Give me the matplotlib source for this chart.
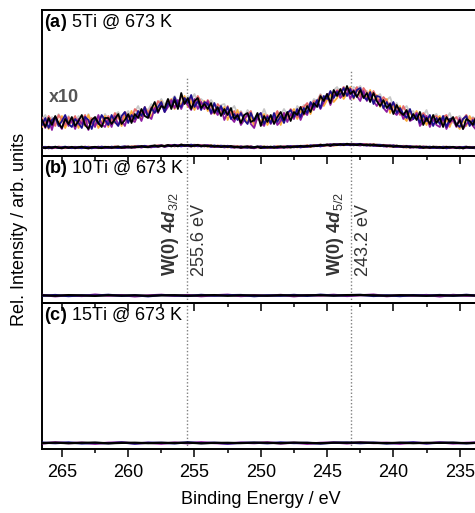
"""
XPS W 4d region, three Ti loadings at 673 K (stacked panels).
"""
import numpy as np
import matplotlib.pyplot as plt
import matplotlib as mpl
from matplotlib.ticker import MultipleLocator

mpl.rcParams["font.family"] = ["Liberation Sans", "DejaVu Sans"]
mpl.rcParams["mathtext.fontset"] = "custom"
mpl.rcParams["mathtext.rm"] = "Liberation Sans"
mpl.rcParams["mathtext.bf"] = "Liberation Sans:bold"
mpl.rcParams["mathtext.it"] = "Liberation Sans:italic"
mpl.rcParams["mathtext.bfit"] = "Liberation Sans:italic:bold"

# ── Data ──────────────────────────────────────────────────────────
# panel (a): spectra at 0.25 eV steps, 266.5 -> 232.5 eV, x10 scale units
BE_START, BE_END = 266.5, 232.5

a_gray = [3, 7, -1, 5, 0, 8, 2, -2, 6, 1,
          -1, 6, 3, -2, 8, 0, 4, 6, -2, 8,
          3, 0, 7, 10, 4, 7, 11, 4, 10, 16,
          8, 14, 12, 18, 11, 18, 23, 17, 23, 21,
          26, 20, 24, 19, 26, 22, 28, 19, 23, 20,
          17, 22, 17, 11, 17, 18, 9, 12, 16, 8,
          11, 5, 12, 7, 2, 8, 5, 13, 4, 7,
          1, 10, 7, 13, 7, 11, 7, 16, 12, 17,
          16, 15, 23, 21, 28, 23, 28, 24, 32, 35,
          29, 35, 32, 28, 35, 33, 36, 29, 31, 25,
          29, 25, 28, 19, 22, 25, 15, 19, 10, 13,
          16, 9, 11, 4, 10, 6, 12, 2, 6, 8,
          1, 6, 3, 9, -1, 4, 6, 1, 7, 3,
          5, 0, 8, 2, 4, -1, 6]

a_gold = [-5, 3, -7, 1, 4, -3, 6, -6, 2, -1,
          4, -6, 1, -4, 7, -2, 3, -6, 0, 6,
          -5, 5, -1, 7, -4, 6, 0, 11, 1, 8,
          4, 13, 11, 5, 16, 12, 21, 11, 16, 23,
          13, 21, 17, 26, 15, 21, 12, 22, 16, 21,
          11, 18, 8, 14, 9, 15, 2, 10, 3, 12,
          -2, 6, -1, 7, -5, 5, 0, 8, -3, 4,
          0, 9, -3, 7, 2, 6, 13, 3, 11, 7,
          17, 8, 18, 16, 25, 16, 22, 28, 20, 24,
          31, 23, 29, 35, 23, 33, 27, 29, 24, 32,
          20, 27, 15, 20, 23, 9, 16, 10, 16, 5,
          1, 10, 4, 11, 0, 4, -3, 6, 1, 3,
          6, -2, 2, -5, 4, -2, -7, 2, -4, 6,
          -1, 4, -5, 2, -3, 7, -2]

a_salmon = [4, -2, 6, 1, -4, 7, 2, -3, 5, 0,
            6, -3, 2, 7, -1, 4, -4, 3, 6, -1,
            6, 1, 9, 4, 0, 10, 5, 3, 13, 10,
            9, 15, 8, 15, 12, 21, 17, 13, 22, 18,
            23, 17, 26, 21, 17, 25, 18, 26, 20, 13,
            22, 16, 11, 18, 14, 8, 16, 7, 11, 3,
            10, 3, 7, 11, -1, 4, 9, 2, 7, 0,
            5, 11, 1, 9, 5, 13, 9, 5, 15, 15,
            19, 13, 21, 20, 27, 19, 26, 30, 26, 32,
            30, 35, 27, 34, 29, 35, 25, 34, 29, 24,
            31, 24, 19, 25, 21, 13, 19, 15, 7, 16,
            9, 12, 3, 9, 3, 9, 5, -2, 5, 6,
            -1, 5, 7, -2, 2, 5, -1, 3, 7, -2,
            4, 1, -3, 6, 2, -1, 5]

a_purple = [1, -6, 3, -8, 5, -2, -7, 4, -4, 2,
            -7, 3, -2, 5, -8, 1, -5, 7, -2, -5,
            3, -5, 6, -3, 2, -4, 7, 2, 0, 8,
            1, 11, 6, 3, 14, 9, 18, 10, 15, 22,
            14, 22, 13, 21, 17, 12, 23, 13, 20, 13,
            21, 8, 12, 7, 15, 2, 10, 4, 0, 8,
            -3, 2, 8, -2, -6, 5, -1, -4, 6, -2,
            5, -3, 1, 9, 0, 8, 3, 12, 2, 10,
            7, 18, 12, 20, 13, 20, 28, 17, 26, 31,
            24, 28, 34, 23, 32, 26, 21, 31, 21, 27,
            21, 16, 23, 14, 10, 19, 10, 7, 12, 3,
            10, 1, 3, 9, -4, 1, 6, -5, 3, -3,
            -5, 4, -7, 0, 2, -5, 4, -7, -2, 1,
            -4, -8, 2, -3, -6, 3, -5]

a_blue = [-3, 4, -6, 2, 5, -4, 1, 7, -2, -5,
          3, -1, -6, 5, 2, -7, 4, -2, 7, 2,
          -3, 7, 0, -4, 6, 10, -1, 7, 3, 11,
          6, 15, 5, 14, 9, 15, 20, 10, 19, 15,
          25, 17, 15, 24, 19, 27, 15, 21, 12, 20,
          18, 9, 19, 10, 16, 8, 15, 3, 8, 2,
          9, 2, -2, 9, 1, 6, 9, -2, 5, -1,
          9, 0, 6, -1, 9, 12, 5, 13, 5, 14,
          9, 20, 15, 22, 14, 26, 23, 31, 24, 30,
          27, 34, 26, 33, 24, 32, 34, 25, 22, 30,
          18, 26, 25, 14, 20, 13, 20, 9, 14, 8,
          4, 13, 3, 7, -1, 7, 1, 7, -4, 4,
          -2, 6, -5, 3, 4, -2, -5, 3, 6, -4,
          2, -6, 4, -3, 5, -1, 3]

a_black = [2, -5, 4, -3, 6, -1, -6, 3, -2, 5,
           -4, 1, 7, -3, -7, 2, 5, -1, -5, 4,
           4, -2, 3, 8, -2, 2, 8, -1, 8, 4,
           13, 6, 4, 13, 20, 10, 16, 14, 23, 13,
           22, 13, 29, 18, 24, 13, 21, 24, 14, 18,
           13, 19, 9, 15, 6, 13, 7, 14, 3, 7,
           -1, 7, 9, 0, 2, 9, -4, 6, 0, 7,
           -2, 5, 10, 2, 10, 1, 10, 7, 15, 8,
           16, 10, 19, 15, 26, 21, 28, 19, 32, 26,
           33, 26, 36, 28, 31, 25, 32, 24, 29, 20,
           29, 21, 16, 22, 14, 18, 8, 17, 10, 7,
           12, 2, 8, 2, 10, -3, 4, -2, 7, -1,
           4, -5, 5, 0, 5, -4, 2, -7, 3, 1,
           -3, 6, -2, 4, -5, 2, -1]

# panels (b), (c): flat traces at 1 eV steps, 266.5 -> 232.5 eV
b_purple = [0.6, -0.8, 0.3, -0.5, 0.9, -0.2, 0.4, -0.9, 0.1, 0.7,
            -0.4, 0.5, -0.7, 0.2, 0.8, -0.6, 0.3, -0.3, 0.6, -0.8,
            0.4, -0.1, 0.7, -0.5, 0.2, 0.9, -0.7, 0.3, -0.2, 0.5,
            -0.9, 0.6, -0.3, 0.1, -0.6]
b_blue = [-0.3, 0.5, -0.6, 0.2, -0.1, 0.7, -0.4, 0.3, -0.8, 0.4,
          0.1, -0.5, 0.6, -0.2, 0.3, 0.5, -0.7, 0.2, -0.3, 0.6,
          -0.4, 0.8, -0.1, 0.3, 0.6, -0.5, 0.2, -0.6, 0.4, -0.2,
          0.5, -0.3, 0.7, -0.4, 0.2]
b_black = [0.2, -0.3, 0.4, 0.1, -0.4, 0.3, -0.1, 0.2, -0.3, 0.1,
           0.3, -0.2, 0.1, 0.4, -0.3, 0.2, 0.1, -0.2, 0.3, 0.0,
           0.2, 0.3, -0.1, 0.4, 0.5, 0.2, -0.2, 0.3, 0.1, -0.3,
           0.2, -0.1, 0.3, -0.2, 0.1]

c_purple = [-0.5, 0.7, -0.2, 0.4, -0.8, 0.3, 0.6, -0.4, 0.2, -0.7,
            0.5, -0.3, 0.8, -0.1, -0.6, 0.4, -0.2, 0.7, -0.5, 0.3,
            -0.8, 0.2, 0.5, -0.4, 0.6, -0.1, 0.3, -0.7, 0.4, -0.3,
            0.6, -0.5, 0.2, 0.5, -0.4]
c_blue = [0.4, -0.2, 0.6, -0.5, 0.1, -0.3, 0.5, -0.6, 0.3, 0.2,
          -0.4, 0.7, -0.2, 0.3, -0.5, 0.1, 0.4, -0.3, 0.6, -0.1,
          0.2, -0.6, 0.3, 0.5, -0.2, 0.4, -0.5, 0.1, 0.6, -0.4,
          0.3, 0.2, -0.3, 0.4, -0.2]
c_black = [-0.1, 0.3, -0.2, 0.2, 0.4, -0.3, 0.1, 0.3, -0.2, 0.2,
           0.0, 0.3, -0.3, 0.1, 0.2, -0.1, 0.3, 0.2, -0.2, 0.4,
           0.1, -0.2, 0.3, 0.2, 0.5, 0.1, -0.1, 0.3, -0.2, 0.2,
           0.1, 0.3, -0.2, 0.2, 0.0]

PEAKS = [255.6, 243.2]
PEAK_LABELS = [(r"$\mathbf{W(0)\ 4}\mathbfit{d}_{\mathrm{3/2}}$", "255.6 eV"),
               (r"$\mathbf{W(0)\ 4}\mathbfit{d}_{\mathrm{5/2}}$", "243.2 eV")]
PANEL_LABELS = [r"$\mathbf{(a)}$ 5Ti @ 673 K",
                r"$\mathbf{(b)}$ 10Ti @ 673 K",
                r"$\mathbf{(c)}$ 15Ti @ 673 K"]

# ── Styles ────────────────────────────────────────────────────────
C_GRAY   = "#c8c8c8"
C_GOLD   = "#fbac3a"
C_SALMON = "#e66a6c"
C_PURPLE = "#8c1aa0"
C_BLUE   = "#1d0f8c"
C_BLACK  = "#000000"
C_DOT    = "#808080"
C_TXT    = "#333333"

a_series = [(a_gray, C_GRAY), (a_gold, C_GOLD), (a_salmon, C_SALMON),
            (a_purple, C_PURPLE), (a_blue, C_BLUE), (a_black, C_BLACK)]
b_series = [(b_purple, C_PURPLE), (b_blue, C_BLUE), (b_black, C_BLACK)]
c_series = [(c_purple, C_PURPLE), (c_blue, C_BLUE), (c_black, C_BLACK)]

W, H = 475, 513
fig = plt.figure(figsize=(W / 100, H / 100), dpi=100)

left, width = 42 / W, 484 / W
ph = 146.5 / H
bot = 1 - 449 / H
axes = [fig.add_axes([left, bot + (2 - i) * ph, width, ph]) for i in range(3)]
ylims = [(-8.5, 138), (-7, 139.5), (-6, 140.5)]

for i, ax in enumerate(axes):
    ax.patch.set_visible(False)
    ax.set_xlim(266.5, 230.0)
    ax.set_ylim(*ylims[i])
    ax.set_yticks([])
    ax.xaxis.set_major_locator(MultipleLocator(5))
    ax.xaxis.set_minor_locator(MultipleLocator(2.5))
    ax.tick_params(axis="x", which="both", direction="out", top=False,
                   bottom=True, width=1.1, labelsize=13, pad=5.5)
    ax.tick_params(axis="x", which="major", length=5.5)
    ax.tick_params(axis="x", which="minor", length=3)
    if i < 2:
        ax.tick_params(axis="x", labelbottom=False)
    for sp in ax.spines.values():
        sp.set_linewidth(1.4)
    ax.text(0.004, 0.985, PANEL_LABELS[i], transform=ax.transAxes,
            ha="left", va="top", fontsize=13, zorder=6)

# panel (a): raw traces and x10 traces
ax = axes[0]
for vals, col in a_series:
    y = np.array(vals, dtype=float)
    x = np.linspace(BE_START, BE_END, len(y))
    ax.plot(x, y / 10, color=col, lw=1.6, zorder=3)
    ax.plot(x, y + 25.5, color=col, lw=1.3, zorder=3)
ax.text(265.97, 50.5, "x10", ha="left", va="center", fontsize=13,
        fontweight="bold", color="#555555")
ax.axvline(PEAKS[0], ymax=0.539, color=C_DOT, lw=1.0, ls=(0, (1, 1.5)), zorder=2)
ax.axvline(PEAKS[1], ymax=0.587, color=C_DOT, lw=1.0, ls=(0, (1, 1.5)), zorder=2)

for ax, series in [(axes[1], b_series), (axes[2], c_series)]:
    for vals, col in series:
        y = np.array(vals, dtype=float)
        x = np.linspace(BE_START, BE_END, len(y))
        ax.plot(x, y, color=col, lw=1.6, zorder=3)
    for p in PEAKS:
        ax.axvline(p, color=C_DOT, lw=1.0, ls=(0, (1, 1.5)), zorder=2)

# peak annotations in panel (b)
ax = axes[1]
for p, (name, val) in zip(PEAKS, PEAK_LABELS):
    ax.text(p + 0.4, 19, name, rotation=90, ha="right", va="bottom",
            fontsize=13, color=C_TXT)
    ax.text(p - 0.3, 19, val, rotation=90, ha="left", va="bottom",
            fontsize=13, color=C_TXT)

fig.text(20 / W, 1 - 229 / H, "Rel. Intensity / arb. units", rotation=90,
         ha="center", va="center", fontsize=13)
fig.text(261 / W, 1 - 500 / H, "Binding Energy / eV", ha="center",
         va="center", fontsize=13)

fig.savefig("out.png", dpi=100, facecolor="white")
plt.close(fig)
